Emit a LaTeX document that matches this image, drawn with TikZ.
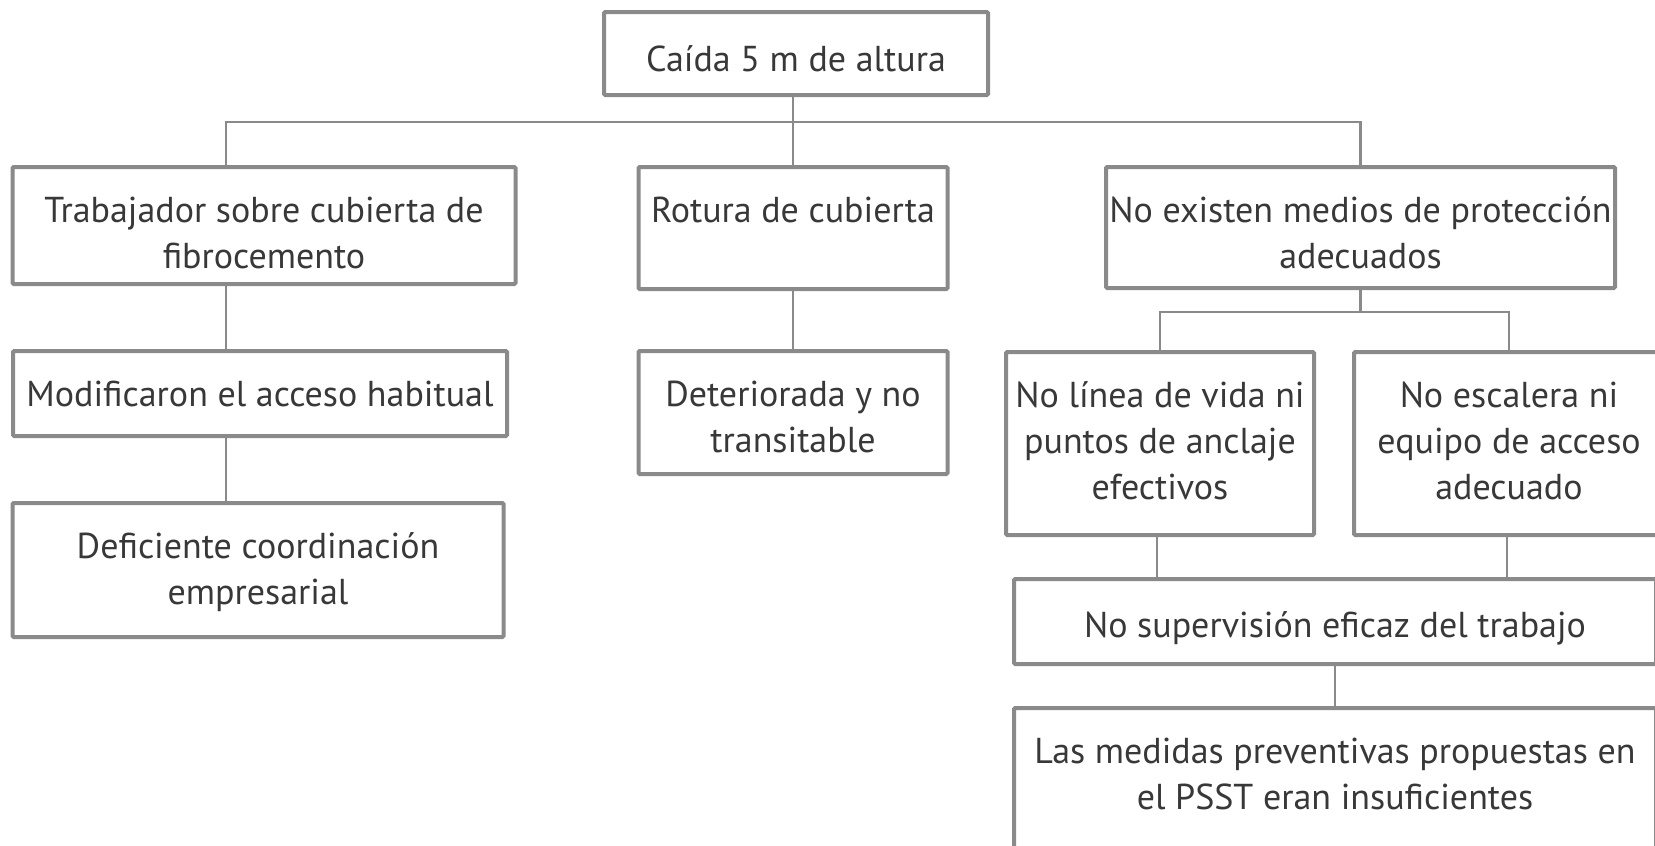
\documentclass[tikz,border=0pt]{standalone}
\usepackage{fontspec}
\setmainfont{PT Sans}
\usetikzlibrary{calc}
\definecolor{boxgray}{HTML}{8A8A8A}
\definecolor{txtgray}{HTML}{383838}

\begin{document}
\begin{tikzpicture}[x=0.5pt, y=-0.5pt,
  font=\fontsize{18}{23}\selectfont,
  cause/.style={draw=boxgray, line width=2pt, fill=white, text=txtgray, align=center, inner sep=0pt, rounded corners=0.6pt, text height=27.5pt},
  twoline/.style={text height=50.5pt},
  threeline/.style={text height=73.5pt},
  link/.style={draw=boxgray, line width=1.3pt}]
  \useasboundingbox (0,0) rectangle (1655,846);
  \clip (0,0) rectangle (1655,846);
  % top event
  \node[cause, minimum width=192pt, text height=29.5pt, text depth=12pt] (caida) at (796,53.5) {Caída 5 m de altura};
  % first level causes
  \node[cause, twoline, minimum width=251.5pt, text depth=8pt] (trab) at (264,225.5) {Trabajador sobre cubierta de\\fibrocemento};
  \node[cause, minimum width=154.5pt, text depth=33.5pt] (rotura) at (793,228) {Rotura de cubierta};
  \node[cause, twoline, minimum width=254.5pt, text depth=10pt] (noexist) at (1360.5,227.5) {No existen medios de protección\\adecuados};
  % second level
  \node[cause, minimum width=247pt, text depth=15pt] (modif) at (260,393.5) {Modificaron el acceso habitual};
  \node[cause, twoline, minimum width=154.5pt, text depth=11pt] (deter) at (793,412.5) {Deteriorada y no\\transitable};
  \node[cause, threeline, minimum width=154pt, text depth=18pt] (linea) at (1160,443.5) {No línea de vida ni\\puntos de anclaje\\efectivos};
  \node[cause, threeline, minimum width=155pt, text depth=18pt] (escal) at (1509,443.5) {No escalera ni\\equipo de acceso\\adecuado};
  % deeper levels
  \node[cause, twoline, minimum width=245.5pt, text depth=16.5pt] (defic) at (258,570) {Deficiente coordinación\\empresarial};
  \node[cause, minimum width=321pt, text height=29pt, text depth=13.5pt] (superv) at (1335,621.5) {No supervisión eficaz del trabajo};
  \node[cause, twoline, minimum width=321pt, text depth=19.5pt] (medidas) at (1335,778) {Las medidas preventivas propuestas en\\el PSST eran insuficientes};
  % tree connectors
  \coordinate (bus1) at (0,122);
  \coordinate (bus2) at (0,312);
  \draw[link] (rotura.north |- caida.south) -- (rotura.north);
  \draw[link] ([xshift=-19pt]trab.north) |- (noexist.north |- bus1) -- (noexist.north);
  \draw[link] ([xshift=-19pt]trab.south) -- ([xshift=-19pt]trab.south |- modif.north);
  \draw[link] ([xshift=-17pt]modif.south) -- ([xshift=-17pt]modif.south |- defic.north);
  \draw[link] (rotura.south) -- (deter.north);
  \draw[link] (noexist.south) -- (noexist.south |- bus2);
  \draw[link] (linea.north) |- (escal.north |- bus2) -- (escal.north);
  \draw[link] ([xshift=-1.5pt]linea.south) -- ([xshift=-1.5pt]linea.south |- superv.north);
  \draw[link] ([xshift=-1pt]escal.south) -- ([xshift=-1pt]escal.south |- superv.north);
  \draw[link] (superv.south) -- (medidas.north);
\end{tikzpicture}
\end{document}
